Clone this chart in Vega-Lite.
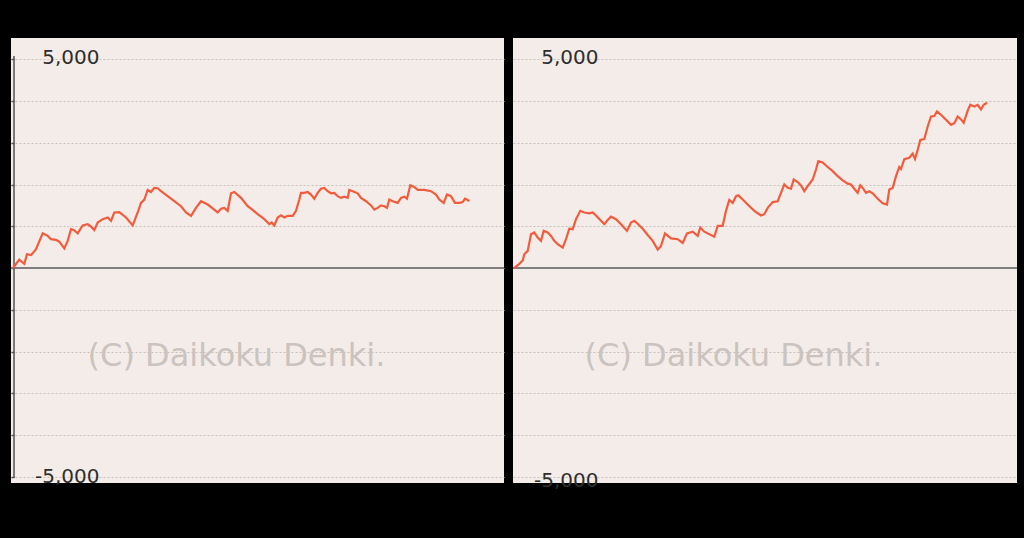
{
  "$schema": "https://vega.github.io/schema/vega-lite/v6.json",
  "background": "black",
  "padding": {"left": 8, "top": 38, "right": 8, "bottom": 55},
  "spacing": 9,
  "bounds": "flush",
  "config": {"view": {"fill": "#f4ece8", "stroke": null}},
  "datasets": {
    "left": [
      {"g":0,"v":0},{"g":63,"v":200},{"g":87,"v":150},{"g":113,"v":100},{"g":140,"v":330},{"g":180,"v":310},{"g":203,"v":370},{"g":230,"v":450},{"g":297,"v":830},{"g":347,"v":770},{"g":380,"v":690},{"g":430,"v":675},{"g":463,"v":630},{"g":513,"v":470},{"g":547,"v":650},{"g":580,"v":930},{"g":607,"v":910},{"g":647,"v":830},{"g":697,"v":1020},{"g":747,"v":1050},{"g":780,"v":990},{"g":813,"v":910},{"g":847,"v":1090},{"g":897,"v":1170},{"g":947,"v":1210},{"g":980,"v":1130},{"g":1013,"v":1330},{"g":1063,"v":1340},{"g":1130,"v":1210},{"g":1197,"v":1020},{"g":1247,"v":1330},{"g":1280,"v":1560},{"g":1313,"v":1640},{"g":1347,"v":1870},{"g":1380,"v":1820},{"g":1413,"v":1920},{"g":1447,"v":1910},{"g":1480,"v":1840},{"g":1547,"v":1720},{"g":1613,"v":1600},{"g":1680,"v":1480},{"g":1730,"v":1330},{"g":1780,"v":1250},{"g":1830,"v":1440},{"g":1880,"v":1600},{"g":1947,"v":1520},{"g":2013,"v":1400},{"g":2047,"v":1330},{"g":2080,"v":1420},{"g":2113,"v":1440},{"g":2147,"v":1370},{"g":2180,"v":1790},{"g":2213,"v":1820},{"g":2280,"v":1680},{"g":2347,"v":1480},{"g":2380,"v":1420},{"g":2447,"v":1290},{"g":2513,"v":1170},{"g":2563,"v":1050},{"g":2587,"v":1090},{"g":2613,"v":1020},{"g":2647,"v":1210},{"g":2680,"v":1260},{"g":2713,"v":1210},{"g":2747,"v":1250},{"g":2797,"v":1250},{"g":2830,"v":1370},{"g":2863,"v":1640},{"g":2880,"v":1800},{"g":2913,"v":1800},{"g":2947,"v":1820},{"g":2980,"v":1760},{"g":3013,"v":1660},{"g":3047,"v":1800},{"g":3080,"v":1900},{"g":3113,"v":1920},{"g":3147,"v":1840},{"g":3180,"v":1790},{"g":3213,"v":1800},{"g":3247,"v":1720},{"g":3280,"v":1680},{"g":3313,"v":1710},{"g":3347,"v":1680},{"g":3363,"v":1870},{"g":3397,"v":1840},{"g":3447,"v":1790},{"g":3480,"v":1680},{"g":3530,"v":1600},{"g":3580,"v":1500},{"g":3613,"v":1400},{"g":3647,"v":1440},{"g":3680,"v":1500},{"g":3713,"v":1480},{"g":3740,"v":1440},{"g":3763,"v":1640},{"g":3797,"v":1600},{"g":3847,"v":1560},{"g":3880,"v":1680},{"g":3913,"v":1710},{"g":3940,"v":1660},{"g":3973,"v":1980},{"g":4013,"v":1940},{"g":4047,"v":1870},{"g":4113,"v":1870},{"g":4180,"v":1840},{"g":4230,"v":1760},{"g":4263,"v":1640},{"g":4307,"v":1560},{"g":4340,"v":1760},{"g":4380,"v":1720},{"g":4420,"v":1560},{"g":4463,"v":1560},{"g":4497,"v":1580},{"g":4520,"v":1660},{"g":4547,"v":1630},{"g":4563,"v":1600}
    ],
    "right": [
      {"g":0,"v":0},{"g":53,"v":100},{"g":87,"v":180},{"g":103,"v":330},{"g":137,"v":410},{"g":170,"v":810},{"g":203,"v":850},{"g":237,"v":730},{"g":270,"v":650},{"g":297,"v":890},{"g":337,"v":850},{"g":370,"v":770},{"g":403,"v":650},{"g":437,"v":570},{"g":487,"v":490},{"g":520,"v":690},{"g":553,"v":940},{"g":587,"v":930},{"g":620,"v":1170},{"g":663,"v":1370},{"g":703,"v":1330},{"g":753,"v":1310},{"g":787,"v":1330},{"g":820,"v":1260},{"g":870,"v":1130},{"g":903,"v":1050},{"g":937,"v":1150},{"g":970,"v":1230},{"g":1020,"v":1170},{"g":1070,"v":1050},{"g":1130,"v":890},{"g":1170,"v":1090},{"g":1203,"v":1130},{"g":1237,"v":1060},{"g":1287,"v":940},{"g":1337,"v":790},{"g":1387,"v":650},{"g":1437,"v":440},{"g":1470,"v":530},{"g":1510,"v":830},{"g":1570,"v":710},{"g":1637,"v":690},{"g":1687,"v":600},{"g":1730,"v":830},{"g":1787,"v":870},{"g":1837,"v":770},{"g":1863,"v":970},{"g":1903,"v":870},{"g":2003,"v":750},{"g":2037,"v":1010},{"g":2087,"v":1010},{"g":2120,"v":1370},{"g":2153,"v":1630},{"g":2187,"v":1560},{"g":2220,"v":1720},{"g":2243,"v":1740},{"g":2287,"v":1640},{"g":2337,"v":1520},{"g":2403,"v":1370},{"g":2470,"v":1260},{"g":2503,"v":1290},{"g":2537,"v":1440},{"g":2587,"v":1580},{"g":2637,"v":1600},{"g":2670,"v":1800},{"g":2703,"v":2000},{"g":2737,"v":1920},{"g":2770,"v":1900},{"g":2797,"v":2120},{"g":2837,"v":2060},{"g":2870,"v":1980},{"g":2903,"v":1840},{"g":2937,"v":1960},{"g":2987,"v":2120},{"g":3020,"v":2360},{"g":3043,"v":2560},{"g":3087,"v":2530},{"g":3137,"v":2420},{"g":3187,"v":2320},{"g":3237,"v":2200},{"g":3287,"v":2100},{"g":3337,"v":2020},{"g":3370,"v":2000},{"g":3403,"v":1900},{"g":3437,"v":1800},{"g":3463,"v":1980},{"g":3487,"v":1920},{"g":3520,"v":1800},{"g":3553,"v":1840},{"g":3587,"v":1790},{"g":3637,"v":1660},{"g":3687,"v":1550},{"g":3730,"v":1520},{"g":3753,"v":1880},{"g":3787,"v":1920},{"g":3820,"v":2200},{"g":3853,"v":2420},{"g":3870,"v":2370},{"g":3903,"v":2610},{"g":3953,"v":2640},{"g":3987,"v":2740},{"g":4010,"v":2610},{"g":4037,"v":2830},{"g":4063,"v":3070},{"g":4103,"v":3090},{"g":4137,"v":3390},{"g":4170,"v":3630},{"g":4203,"v":3640},{"g":4230,"v":3750},{"g":4270,"v":3670},{"g":4320,"v":3550},{"g":4370,"v":3430},{"g":4403,"v":3470},{"g":4437,"v":3630},{"g":4470,"v":3560},{"g":4497,"v":3480},{"g":4537,"v":3770},{"g":4563,"v":3910},{"g":4603,"v":3870},{"g":4637,"v":3910},{"g":4670,"v":3800},{"g":4697,"v":3910},{"g":4730,"v":3960}
    ]
  },
  "hconcat": [
    {
      "width": 493,
      "height": 445,
      "layer": [
        {
          "data": {"values": [{}]},
          "mark": {"type": "text", "text": "(C) Daikoku Denki.", "font": "DejaVu Sans", "fontSize": 32, "fill": "#cbc3bf", "align": "center", "baseline": "alphabetic"},
          "encoding": {
            "x": {"datum": 2235, "type": "quantitative", "scale": {"domain": [-20, 4910], "nice": false, "zero": false}, "axis": null},
            "y": {"datum": -2347, "type": "quantitative", "scale": {"domain": [-5150, 5510], "nice": false, "zero": false},
              "axis": {"values": [-5000,-4000,-3000,-2000,-1000,0,1000,2000,3000,4000,5000], "grid": true, "gridDash": [2, 2], "gridColor": "#c7bfba", "gridWidth": 1, "domain": false, "ticks": true, "tickSize": -3, "tickColor": "#555555", "tickWidth": 1.5, "labelExpr": "datum.value == 5000 ? '5,000' : (datum.value == -5000 ? '-5,000' : '')", "labelAlign": "right", "labelPadding": -85, "labelFont": "DejaVu Sans", "labelFontSize": 20, "labelColor": "#2e2e2e", "labelBaseline": "alphabetic", "labelOverlap": false, "labelFlush": false, "labelOffset": {"condition": {"test": "datum.value < 0", "value": 6}, "value": 4}, "title": null}}
          }
        },
        {
          "data": {"values": [{}]},
          "mark": {"type": "rule", "color": "#7f7f7f", "strokeWidth": 2},
          "encoding": {
            "y": {"datum": 0, "type": "quantitative", "scale": {"domain": [-5150, 5510], "nice": false, "zero": false}}
          }
        },
        {
          "data": {"values": [{}]},
          "mark": {"type": "rule", "color": "#555555", "strokeWidth": 1.5},
          "encoding": {
            "x": {"datum": 10, "type": "quantitative", "scale": {"domain": [-20, 4910], "nice": false, "zero": false}},
            "y": {"datum": 5080, "type": "quantitative", "scale": {"domain": [-5150, 5510], "nice": false, "zero": false}},
            "y2": {"datum": -5030}
          }
        },
        {
          "data": {"name": "left"},
          "mark": {"type": "line", "color": "#f25c3c", "strokeWidth": 2.2},
          "encoding": {
            "x": {"field": "g", "type": "quantitative", "scale": {"domain": [-20, 4910], "nice": false, "zero": false}},
            "y": {"field": "v", "type": "quantitative", "scale": {"domain": [-5150, 5510], "nice": false, "zero": false}}
          }
        }
      ]
    },
    {
      "width": 504,
      "height": 445,
      "layer": [
        {
          "data": {"values": [{}]},
          "mark": {"type": "text", "text": "(C) Daikoku Denki.", "font": "DejaVu Sans", "fontSize": 32, "fill": "#cbc3bf", "align": "center", "baseline": "alphabetic"},
          "encoding": {
            "x": {"datum": 2195, "type": "quantitative", "scale": {"domain": [-10, 5030], "nice": false, "zero": false}, "axis": null},
            "y": {"datum": -2347, "type": "quantitative", "scale": {"domain": [-5150, 5510], "nice": false, "zero": false},
              "axis": {"values": [-5000,-4000,-3000,-2000,-1000,0,1000,2000,3000,4000,5000], "grid": true, "gridDash": [2, 2], "gridColor": "#c7bfba", "gridWidth": 1, "domain": false, "ticks": true, "tickSize": -3, "tickOpacity": 0, "labelExpr": "datum.value == 5000 ? '5,000' : (datum.value == -5000 ? '-5,000' : '')", "labelAlign": "right", "labelPadding": -82, "labelFont": "DejaVu Sans", "labelFontSize": 20, "labelColor": "#2e2e2e", "labelBaseline": "alphabetic", "labelOverlap": false, "labelFlush": false, "labelOffset": {"condition": {"test": "datum.value < 0", "value": 10}, "value": 4}, "title": null}}
          }
        },
        {
          "data": {"values": [{}]},
          "mark": {"type": "rule", "color": "#7f7f7f", "strokeWidth": 2},
          "encoding": {
            "y": {"datum": 0, "type": "quantitative", "scale": {"domain": [-5150, 5510], "nice": false, "zero": false}}
          }
        },
        {
          "data": {"name": "right"},
          "mark": {"type": "line", "color": "#f25c3c", "strokeWidth": 2.2},
          "encoding": {
            "x": {"field": "g", "type": "quantitative", "scale": {"domain": [-10, 5030], "nice": false, "zero": false}},
            "y": {"field": "v", "type": "quantitative", "scale": {"domain": [-5150, 5510], "nice": false, "zero": false}}
          }
        }
      ]
    }
  ]
}
